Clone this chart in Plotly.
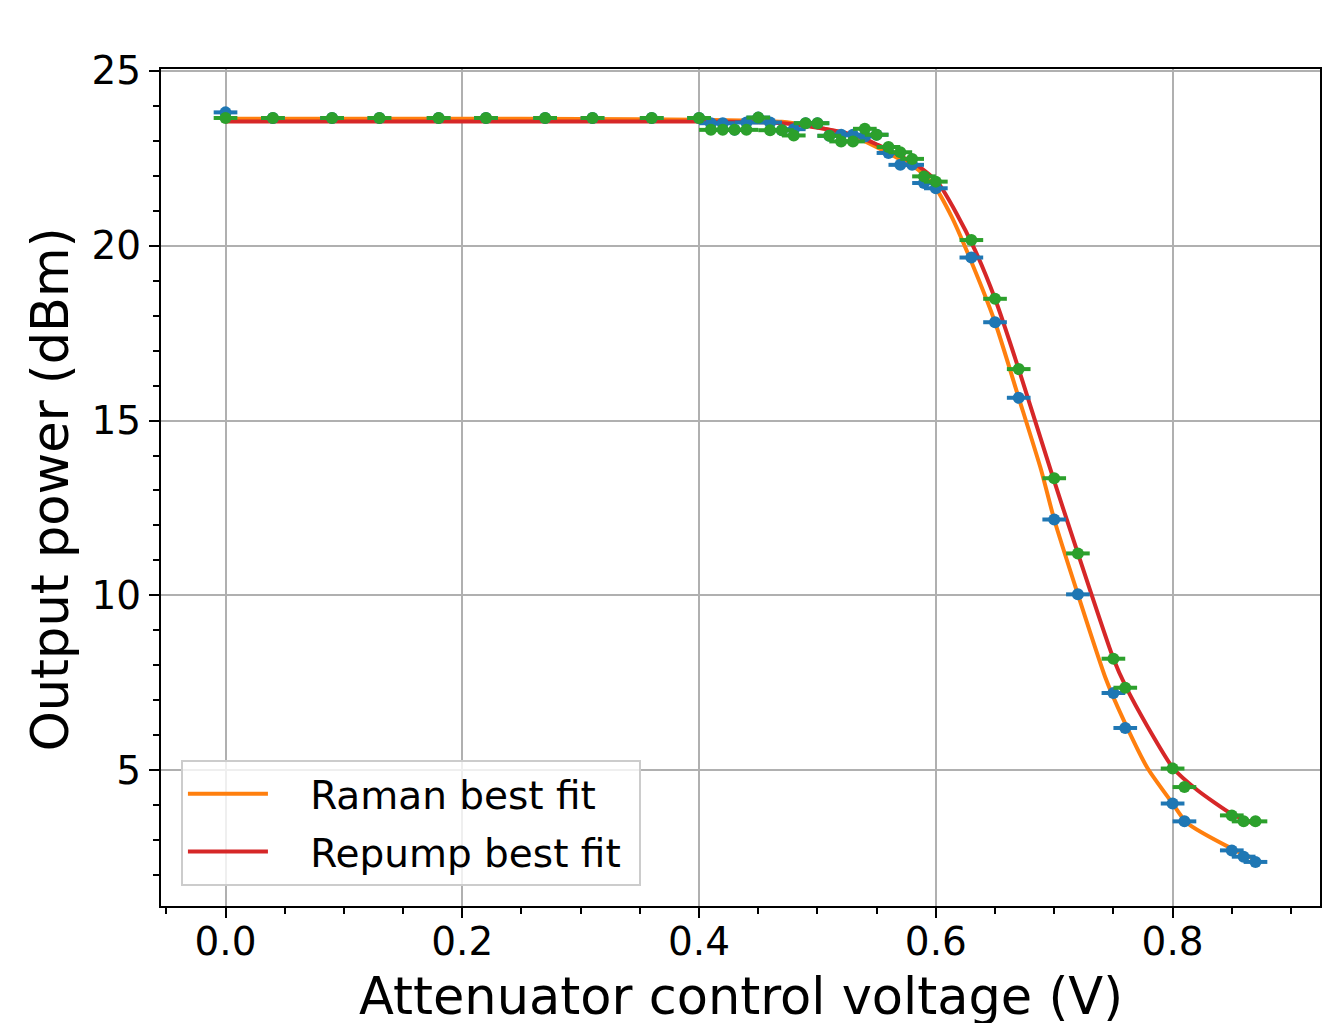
import plotly.graph_objects as go

# ---- data ----
green_x = [0.00, 0.04, 0.09, 0.13, 0.18, 0.22, 0.27, 0.31, 0.36, 0.40, 0.41, 0.42, 0.43, 0.44,
           0.45, 0.46, 0.47, 0.48, 0.49, 0.50, 0.51, 0.52, 0.53, 0.54, 0.55, 0.56, 0.57, 0.58,
           0.59, 0.60, 0.63, 0.65, 0.67, 0.70, 0.72, 0.75, 0.76, 0.80, 0.81, 0.85, 0.86, 0.87]
green_y = [23.65, 23.65, 23.65, 23.65, 23.65, 23.65, 23.65, 23.65, 23.65, 23.65, 23.31, 23.31,
           23.31, 23.31, 23.66, 23.30, 23.30, 23.15, 23.50, 23.50, 23.14, 22.98, 22.98, 23.34,
           23.17, 22.82, 22.67, 22.48, 21.98, 21.83, 20.16, 18.48, 16.47, 13.35, 11.20, 8.19,
           7.36, 5.05, 4.52, 3.71, 3.54, 3.54]

blue_x = [0.00, 0.04, 0.09, 0.13, 0.18, 0.22, 0.27, 0.31, 0.36, 0.40, 0.41, 0.42, 0.43, 0.44,
          0.45, 0.46, 0.47, 0.48, 0.49, 0.50, 0.51, 0.52, 0.53, 0.54, 0.55, 0.56, 0.57, 0.58,
          0.59, 0.60, 0.63, 0.65, 0.67, 0.70, 0.72, 0.75, 0.76, 0.80, 0.81, 0.85, 0.86, 0.87]
blue_y = [23.81, 23.65, 23.65, 23.65, 23.65, 23.65, 23.65, 23.65, 23.65, 23.65, 23.50, 23.50,
          23.31, 23.52, 23.66, 23.52, 23.30, 23.33, 23.50, 23.50, 23.14, 23.17, 23.17, 23.12,
          23.17, 22.65, 22.31, 22.31, 21.79, 21.64, 19.66, 17.81, 15.65, 12.17, 10.03, 7.21,
          6.21, 4.05, 3.54, 2.71, 2.53, 2.38]
x_err = 0.01

raman_fit_x = [0.00, 0.10, 0.20, 0.30, 0.40, 0.45, 0.47, 0.495, 0.517, 0.535, 0.551, 0.568,
               0.585, 0.599, 0.613, 0.627, 0.65, 0.67, 0.689, 0.70, 0.72, 0.744, 0.762, 0.779,
               0.80, 0.812, 0.85, 0.87]
raman_fit_y = [23.63, 23.63, 23.63, 23.62, 23.60, 23.57, 23.54, 23.41, 23.26, 23.06, 22.80,
               22.50, 22.17, 21.69, 20.85, 19.78, 17.81, 15.65, 13.58, 12.17, 10.03, 7.58,
               6.19, 5.05, 4.05, 3.50, 2.76, 2.45]

repump_fit_x = [0.00, 0.10, 0.20, 0.30, 0.40, 0.45, 0.47, 0.495, 0.517, 0.535, 0.551, 0.568,
                0.586, 0.602, 0.617, 0.633, 0.65, 0.67, 0.697, 0.72, 0.75, 0.7605, 0.779,
                0.8007, 0.821, 0.85, 0.87]
repump_fit_y = [23.55, 23.55, 23.55, 23.55, 23.55, 23.53, 23.50, 23.40, 23.27, 23.12, 22.88,
                22.60, 22.26, 21.79, 20.95, 19.88, 18.48, 16.47, 13.58, 11.20, 8.19, 7.39,
                6.24, 5.05, 4.43, 3.75, 3.45]

x_ticks = [0.0, 0.2, 0.4, 0.6, 0.8]
y_ticks = [5, 10, 15, 20, 25]

BLUE, ORANGE, GREEN, RED = "#1f77b4", "#ff7f0e", "#2ca02c", "#d62728"
FONT = "DejaVu Sans"
NB = "\u00a0\u00a0\u00a0"

fig = go.Figure()

fig.add_trace(go.Scatter(x=raman_fit_x, y=raman_fit_y, mode="lines",
                         name=NB + "Raman best fit\u00a0", legendgroup="a",
                         line=dict(color=ORANGE, width=4, shape="spline", smoothing=0.6)))
fig.add_trace(go.Scatter(x=repump_fit_x, y=repump_fit_y, mode="lines",
                         name=NB + "Repump best fit\u00a0", legendgroup="b",
                         line=dict(color=RED, width=4, shape="spline", smoothing=0.6)))

fig.add_trace(go.Scatter(x=blue_x, y=blue_y, mode="markers", showlegend=False,
                         marker=dict(color=BLUE, size=12),
                         error_x=dict(type="constant", value=x_err, color=BLUE,
                                      thickness=4, width=0)))
fig.add_trace(go.Scatter(x=green_x, y=green_y, mode="markers", showlegend=False,
                         marker=dict(color=GREEN, size=12),
                         error_x=dict(type="constant", value=x_err, color=GREEN,
                                      thickness=4, width=0)))

axis_common = dict(
    showline=True, linecolor="black", linewidth=2, mirror=True,
    ticks="outside", ticklen=10, tickwidth=2, tickcolor="black",
    showgrid=True, gridcolor="#b0b0b0", gridwidth=2, zeroline=False,
    tickfont=dict(family=FONT, size=39, color="black"),
)

fig.update_xaxes(range=[-0.0545, 0.9245], tickvals=x_ticks, tickformat=".1f",
                 ticklabelstandoff=-10,
                 minor=dict(dtick=0.05, tick0=0, ticks="outside", ticklen=6, tickwidth=1.5,
                            tickcolor="black", showgrid=False),
                 **axis_common)
fig.update_yaxes(range=[1.12, 25.05], tickvals=y_ticks,
                 minor=dict(dtick=1, tick0=0, ticks="outside", ticklen=6, tickwidth=1.5,
                            tickcolor="black", showgrid=False),
                 **axis_common)

fig.update_layout(
    width=1322, height=1023,
    margin=dict(l=161, r=0, t=69, b=117),
    plot_bgcolor="white", paper_bgcolor="white",
    font=dict(family=FONT, color="black"),
    legend=dict(x=0.0172, y=0.024, xanchor="left", yanchor="bottom",
                bgcolor="rgba(255,255,255,0.8)", bordercolor="#cccccc", borderwidth=2,
                font=dict(family=FONT, size=39, color="black"), itemwidth=80,
                tracegroupgap=4),
    annotations=[
        dict(text="Attenuator control voltage (V)", xref="paper", yref="paper",
             x=0.5, y=-0.108, xanchor="center", yanchor="middle", showarrow=False,
             font=dict(family=FONT, size=51, color="black")),
        dict(text="Output power (dBm)", xref="paper", yref="paper",
             x=-0.0956, y=0.498, xanchor="center", yanchor="middle", showarrow=False,
             textangle=-90, font=dict(family=FONT, size=51, color="black")),
    ],
)

fig.write_html("out.html", config={"displayModeBar": False},
               post_script="document.body.style.margin='0px';document.body.style.overflow='hidden';")
